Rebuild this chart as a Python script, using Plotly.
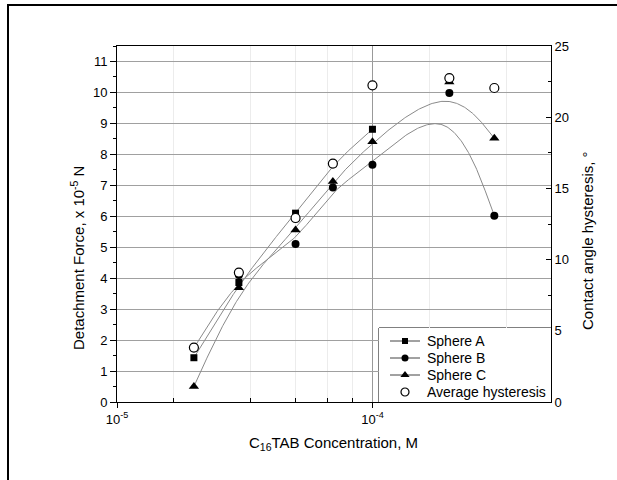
import numpy as np
import plotly.graph_objects as go

# C16TAB concentration, M
conc = [2e-5, 3e-5, 5e-5, 7e-5, 1e-4, 2e-4, 3e-4]
conc_a = [2e-5, 3e-5, 5e-5, 7e-5, 1e-4]

# Detachment force, x 10^-5 N
sphere_a = [1.43, 3.86, 6.10, 7.70, 8.81]
sphere_b = [1.75, 4.10, 5.10, 6.93, 7.66, 9.98, 6.02]
sphere_c = [0.50, 3.69, 5.56, 7.12, 8.41, 10.34, 8.52]

# Average contact angle hysteresis, degrees
avg_hyst = [3.82, 9.09, 12.92, 16.74, 22.24, 22.75, 22.05]

x_tick_vals = [1e-5, 1e-4]
x_tick_text = ["10<sup>-5</sup>", "10<sup>-4</sup>"]
x_minor_vals = [k * 1e-4 / 6 for k in range(1, 6)] + [k * 1e-3 / 6 for k in range(1, 4)]

legend_names = ["Sphere A", "Sphere B", "Sphere C", "Average hysteresis"]

FONT = "Liberation Sans, Arial, sans-serif"
CURVE = "#8a8a8a"


def bspline(xs, ys, n=60):
    """Uniform cubic B-spline with the points as control points (end points tripled), in log-x space."""
    P = np.column_stack([np.log10(xs), ys])
    Q = np.vstack([P[0], P[0], P, P[-1], P[-1]])
    t = np.linspace(0, 1, n)[:, None]
    b0 = (1 - t) ** 3 / 6
    b1 = (3 * t ** 3 - 6 * t ** 2 + 4) / 6
    b2 = (-3 * t ** 3 + 3 * t ** 2 + 3 * t + 1) / 6
    b3 = t ** 3 / 6
    segs = [b0 * Q[i] + b1 * Q[i + 1] + b2 * Q[i + 2] + b3 * Q[i + 3] for i in range(len(Q) - 3)]
    out = np.vstack(segs)
    return 10 ** out[:, 0], out[:, 1]


fig = go.Figure()

# smooth curves
for xs, ys in [(conc_a, sphere_a), (conc, sphere_b), (conc, sphere_c)]:
    cx, cy = bspline(xs, ys)
    fig.add_trace(go.Scatter(x=cx, y=cy, mode="lines", line=dict(color=CURVE, width=1),
                             showlegend=False, hoverinfo="skip"))

# data points
MARKERS = [
    dict(symbol="square", size=7, color="black"),
    dict(symbol="circle", size=8, color="black"),
    dict(symbol="triangle-up", size=9, color="black"),
    dict(symbol="circle", size=9, color="white", line=dict(color="black", width=1.2)),
]
fig.add_trace(go.Scatter(x=conc_a, y=sphere_a, mode="markers", showlegend=False, marker=MARKERS[0]))
fig.add_trace(go.Scatter(x=conc, y=sphere_b, mode="markers", showlegend=False, marker=MARKERS[1]))
fig.add_trace(go.Scatter(x=conc, y=sphere_c, mode="markers", showlegend=False, marker=MARKERS[2]))
fig.add_trace(go.Scatter(x=conc, y=avg_hyst, mode="markers", showlegend=False, yaxis="y2",
                         marker=MARKERS[3]))

L, R, T, B = 117, 551, 46, 402
PW, PH = R - L, B - T


def px(xp):
    return (xp - L) / PW


def py(yp):
    return (B - yp) / PH


# legend panel, laid out on an inset axis measured in pixels
LEG_L, LEG_T = 379, 328
LEG_ROW0, LEG_DY = 341, 17
legend_marks = [dict(m, size=m["size"] - 1) for m in MARKERS]
annotations = []
for i, (name, mk) in enumerate(zip(legend_names, legend_marks)):
    yc = LEG_ROW0 + i * LEG_DY
    if i < 3:
        fig.add_trace(go.Scatter(x=[390, 420], y=[yc, yc], mode="lines", xaxis="x3", yaxis="y3",
                                 line=dict(color="#444444", width=1), showlegend=False,
                                 hoverinfo="skip"))
    fig.add_trace(go.Scatter(x=[405], y=[yc], mode="markers", xaxis="x3", yaxis="y3",
                             marker=mk, showlegend=False, hoverinfo="skip"))
    annotations.append(dict(text=name, x=425, y=yc, xref="x3", yref="y3", showarrow=False,
                            xanchor="left", yanchor="middle", font=dict(size=14)))

fig.update_layout(
    width=617, height=480,
    margin=dict(l=L, r=617 - R, t=T, b=480 - B),
    paper_bgcolor="white", plot_bgcolor="white",
    font=dict(family=FONT, size=13, color="black"),
    showlegend=False,
    xaxis=dict(
        type="log", range=[-5, np.log10(5e-4)],
        tickmode="array", tickvals=x_tick_vals, ticktext=x_tick_text,
        ticks="outside", ticklen=5, tickcolor="black",
        showline=True, linecolor="black", linewidth=1, mirror=True,
        showgrid=True, gridcolor="#999999", gridwidth=1, zeroline=False,
        tickfont=dict(size=13),
        minor=dict(tickmode="array", tickvals=x_minor_vals, ticks="inside", ticklen=4,
                   tickcolor="black", showgrid=True, gridcolor="#ececec", gridwidth=1),
    ),
    yaxis=dict(
        range=[0, 11.5], tickmode="linear", tick0=0, dtick=1,
        ticks="outside", ticklen=6, tickcolor="black",
        showline=True, linecolor="black", linewidth=1,
        showgrid=True, gridcolor="#a0a0a0", gridwidth=1, zeroline=False,
        tickfont=dict(size=13),
        minor=dict(dtick=0.5, ticks="outside", ticklen=3, tickcolor="black", showgrid=False),
    ),
    yaxis2=dict(
        overlaying="y", side="right", range=[0, 25], tickmode="linear", tick0=0, dtick=5,
        ticks="inside", ticklen=5, tickcolor="black",
        showline=True, linecolor="black", linewidth=1,
        showgrid=False, zeroline=False, tickfont=dict(size=13),
        minor=dict(dtick=2.5, ticks="inside", ticklen=3, tickcolor="black", showgrid=False),
    ),
    xaxis3=dict(domain=[px(LEG_L), 1], range=[LEG_L, R], anchor="y3", visible=False,
                fixedrange=True),
    yaxis3=dict(domain=[0, py(LEG_T)], range=[B, LEG_T], anchor="x3", visible=False,
                fixedrange=True),
    annotations=annotations + [
        dict(text="Detachment Force, x 10<sup>-5</sup> N", textangle=-90,
             x=px(77), y=py(258), xref="paper", yref="paper", showarrow=False,
             xanchor="center", yanchor="middle", font=dict(size=15)),
        dict(text="Contact angle hysteresis, °", textangle=-90,
             x=px(588), y=py(241), xref="paper", yref="paper", showarrow=False,
             xanchor="center", yanchor="middle", font=dict(size=15)),
        dict(text="C<sub>16</sub>TAB Concentration, M",
             x=px(333), y=py(443), xref="paper", yref="paper", showarrow=False,
             xanchor="center", yanchor="middle", font=dict(size=15)),
    ],
    shapes=[
        # legend frame
        dict(type="rect", xref="paper", yref="paper",
             x0=px(LEG_L), x1=1, y0=0, y1=py(LEG_T),
             line=dict(color="black", width=1), fillcolor="white", layer="below"),
        # outer frame
        dict(type="rect", xref="paper", yref="paper",
             x0=px(8), x1=px(700), y0=py(5), y1=py(540),
             line=dict(color="black", width=2), fillcolor="rgba(0,0,0,0)", layer="above"),
    ],
)

fig.write_html("out.html")
